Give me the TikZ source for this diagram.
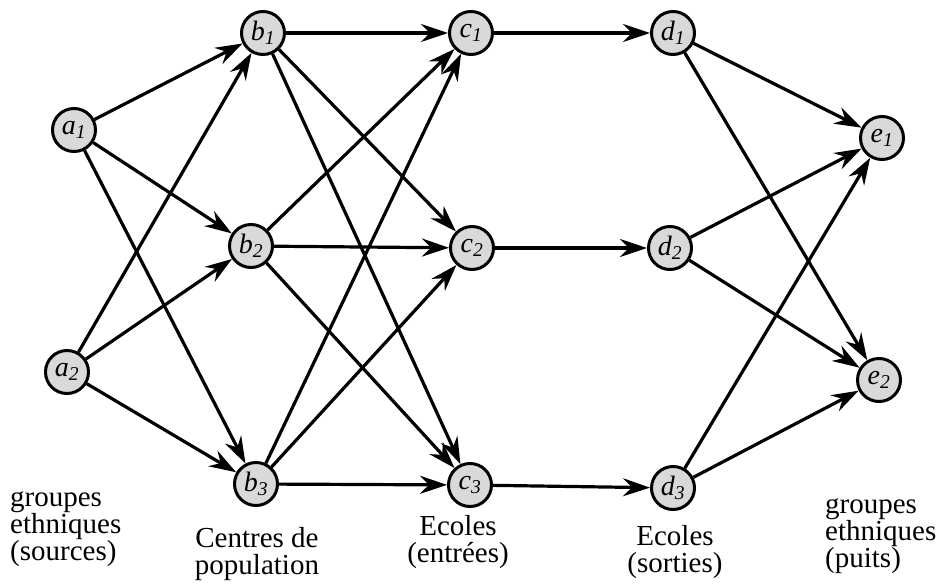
\documentclass[tikz,border=0pt]{standalone}
\usepackage{fontspec}
\setmainfont{Liberation Serif}
\usetikzlibrary{arrows.meta}
\begin{document}
\begin{tikzpicture}[x=1pt,y=-1pt,
  vtx/.style={circle,draw,line width=3pt,fill=black!15,minimum size=43pt,inner sep=0pt,font=\fontsize{28}{28}\selectfont\itshape},
  arr/.style={line width=3.2pt,-{Stealth[length=27pt,width=18pt,inset=9pt]},shorten >=0pt},
  lab/.style={align=left,font=\fontsize{29}{27}\selectfont,inner sep=0pt},
  labc/.style={align=center,font=\fontsize{29}{27}\selectfont,inner sep=0pt}]
\useasboundingbox (0,0) rectangle (946,584);
\node[vtx] (a1) at (74,130) {a\textsubscript{1}};
\node[vtx] (a2) at (67,372) {a\textsubscript{2}};
\node[vtx] (b1) at (263,33) {b\textsubscript{1}};
\node[vtx] (b2) at (251,246) {b\textsubscript{2}};
\node[vtx] (b3) at (256,484) {b\textsubscript{3}};
\node[vtx] (c1) at (471,33) {c\textsubscript{1}};
\node[vtx] (c2) at (472,248) {c\textsubscript{2}};
\node[vtx] (c3) at (470,485) {c\textsubscript{3}};
\node[vtx] (d1) at (673,33) {d\textsubscript{1}};
\node[vtx] (d2) at (670,248) {d\textsubscript{2}};
\node[vtx] (d3) at (673,488) {d\textsubscript{3}};
\node[vtx] (e1) at (882,138) {e\textsubscript{1}};
\node[vtx] (e2) at (879,380) {e\textsubscript{2}};
\foreach \s in {a1,a2}{\foreach \t in {b1,b2,b3}{\draw[arr] (\s) -- (\t);}}
\foreach \s in {b1,b2,b3}{\foreach \t in {c1,c2,c3}{\draw[arr] (\s) -- (\t);}}
\draw[arr] (c1) -- (d1);
\draw[arr] (c2) -- (d2);
\draw[arr] (c3) -- (d3);
\foreach \s in {d1,d2,d3}{\foreach \t in {e1,e2}{\draw[arr] (\s) -- (\t);}}
\node[lab,anchor=north west] (l1) at (10,491) {groupes\\ethniques\\(sources)};
\node[labc,anchor=north] (l2) at (257,527) {Centres de\\population};
\node[labc,anchor=north] (l3) at (458,515) {Ecoles\\(entrées)};
\node[labc,anchor=north] (l4) at (675,525) {Ecoles\\(sorties)};
\node[lab,anchor=north west] (l5) at (825,498) {groupes\\ethniques\\(puits)};
\end{tikzpicture}
\end{document}
